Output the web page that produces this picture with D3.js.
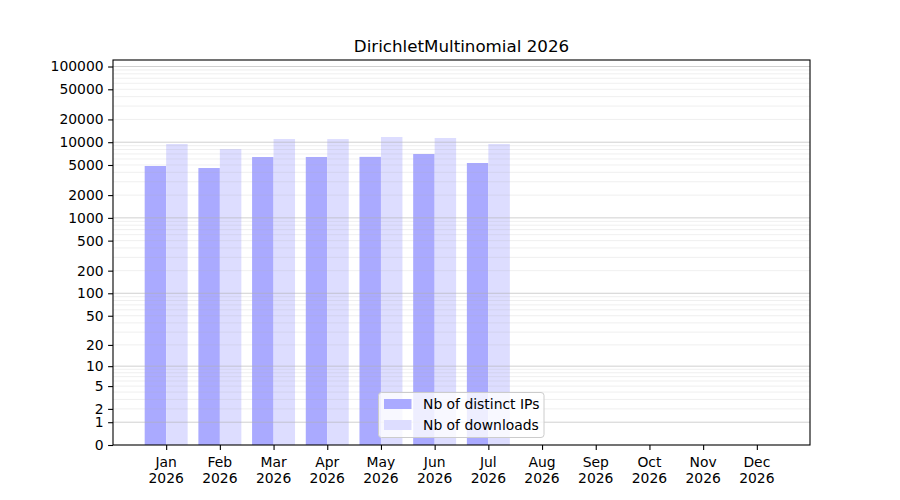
<!DOCTYPE html>
<html>
<head>
	<title>DirichletMultinomial 2026</title>
	<script src="https://d3js.org/d3.v7.min.js" charset="utf-8"></script>
	<style>
		body { margin: 0; background: #fff; }
		text { font-family: "DejaVu Sans", sans-serif; fill: #000; }
	</style>
</head>
<body>
<script type="text/javascript">
	// data
	var months = ["Jan", "Feb", "Mar", "Apr", "May", "Jun", "Jul", "Aug", "Sep", "Oct", "Nov", "Dec"];
	var year = "2026";
	var distinctIPs = [4850, 4560, 6370, 6380, 6400, 6980, 5310, 0, 0, 0, 0, 0];
	var downloads = [9460, 8130, 11020, 11000, 11720, 11360, 9460, 0, 0, 0, 0, 0];
	var yTickValues = [0, 1, 2, 5, 10, 20, 50, 100, 200, 500, 1000, 2000, 5000, 10000, 20000, 50000, 100000];
	var seriesNames = ["Nb of distinct IPs", "Nb of downloads"];

	var svgWidth = 900,
	    svgHeight = 500,
	    plotLeft = 113, plotRight = 810, plotTop = 60, plotBottom = 445;

	var colors = ["#aaaaff", "#ddddff"];

	var svg = d3.select("body")
		.append("svg")
		.attr("width", svgWidth)
		.attr("height", svgHeight);

	var x = d3.scaleLinear()
		.domain([-0.99, months.length - 1 + 0.99])
		.range([plotLeft, plotRight]);

	// log(1+x) style axis
	var y = d3.scaleSymlog()
		.constant(1)
		.domain([0, 121900])
		.range([plotBottom, plotTop]);

	var barW = 0.4;

	// bars
	var series = [distinctIPs, downloads];
	series.forEach(function(vals, s) {
		svg.append("g").selectAll("rect")
			.data(vals)
			.enter().append("rect")
			.attr("x", function(d, i) { return x(i - barW + s * barW); })
			.attr("width", x(barW) - x(0))
			.attr("y", function(d) { return y(d); })
			.attr("height", function(d) { return plotBottom - y(d); })
			.style("fill", colors[s]);
	});

	// grid lines, minor then major
	var minor = [];
	for (var p = 0; p < 5; p++) {
		for (var m = 2; m <= 9; m++) minor.push(m * Math.pow(10, p));
	}
	var major = [1, 10, 100, 1000, 10000, 100000];

	svg.append("g").selectAll("line")
		.data(minor)
		.enter().append("line")
		.attr("x1", plotLeft).attr("x2", plotRight)
		.attr("y1", function(d) { return y(d); })
		.attr("y2", function(d) { return y(d); })
		.style("stroke", "#b0b0b0")
		.style("stroke-opacity", 0.25)
		.style("stroke-width", 0.8);

	svg.append("g").selectAll("line")
		.data(major)
		.enter().append("line")
		.attr("x1", plotLeft).attr("x2", plotRight)
		.attr("y1", function(d) { return y(d); })
		.attr("y2", function(d) { return y(d); })
		.style("stroke", "#b0b0b0")
		.style("stroke-opacity", 0.75)
		.style("stroke-width", 0.8);

	// axes
	var yAxis = svg.append("g")
		.attr("transform", "translate(" + plotLeft + ",0)")
		.call(d3.axisLeft(y).tickValues(yTickValues).tickFormat(d3.format("d")).tickSize(4.9).tickPadding(4.5));

	var xAxis = svg.append("g")
		.attr("transform", "translate(0," + plotBottom + ")")
		.call(d3.axisBottom(x).tickValues(d3.range(months.length)).tickFormat("").tickSize(4.9));

	[yAxis, xAxis].forEach(function(a) {
		a.select(".domain").remove();
		a.selectAll("line").style("stroke", "#000").style("stroke-width", 1.1);
		a.selectAll("text").style("font-size", "13.9px").style("font-family", "DejaVu Sans, sans-serif");
	});

	// two line month labels
	var lab = svg.append("g").selectAll("text")
		.data(months)
		.enter().append("text")
		.attr("x", function(d, i) { return x(i); })
		.attr("y", plotBottom + 22)
		.attr("text-anchor", "middle")
		.style("font-size", "13.9px");
	lab.append("tspan").attr("x", function(d, i) { return x(i); }).text(function(d) { return d; });
	lab.append("tspan").attr("x", function(d, i) { return x(i); }).attr("dy", 16).text(year);

	// frame
	svg.append("rect")
		.attr("x", plotLeft).attr("y", plotTop)
		.attr("width", plotRight - plotLeft).attr("height", plotBottom - plotTop)
		.style("fill", "none")
		.style("stroke", "#000")
		.style("stroke-width", 1.1);

	// title
	svg.append("text")
		.attr("x", (plotLeft + plotRight) / 2)
		.attr("y", plotTop - 8)
		.attr("text-anchor", "middle")
		.style("font-size", "16.7px")
		.text("DirichletMultinomial " + year);

	// legend
	var lg = svg.append("g");
	lg.append("rect")
		.attr("x", 378.5).attr("y", 392.5)
		.attr("width", 165.5).attr("height", 45)
		.attr("rx", 3)
		.style("fill", "#fff").style("fill-opacity", 0.8)
		.style("stroke", "#cccccc").style("stroke-width", 1);
	seriesNames.forEach(function(n, i) {
		lg.append("rect")
			.attr("x", 384).attr("y", 399 + i * 21)
			.attr("width", 27.5).attr("height", 10)
			.style("fill", colors[i]);
		lg.append("text")
			.attr("x", 423)
			.attr("y", 409 + i * 21)
			.style("font-size", "13.9px")
			.text(n);
	});
</script>
</body>
</html>
